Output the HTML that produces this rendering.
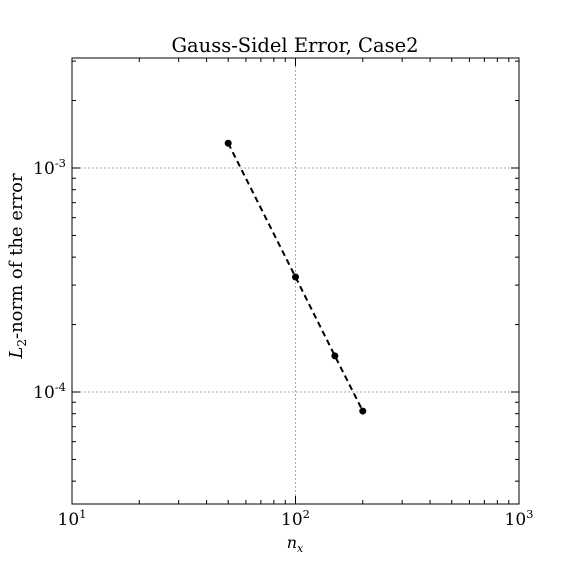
<!DOCTYPE html>
<html><head><meta charset="utf-8"><style>
body{margin:0;background:#fff;}
svg{display:block;font-family:"DejaVu Serif","Liberation Serif",serif;}
</style></head><body>
<svg id="c" width="576" height="576" viewBox="0 0 576 576">
<rect width="576" height="576" fill="#fff"/>
<text x="295" y="52" font-size="19.5" text-anchor="middle">Gauss-Sidel Error, Case2</text>
<g id="grid"></g><g id="ticks"></g><g id="series"></g>
<rect x="72" y="58" width="447" height="446" fill="none" stroke="#000" stroke-width="1"/>
<text x="295" y="548" font-size="16" font-style="italic" text-anchor="middle">n<tspan font-size="11" dy="4">x</tspan></text>
<text transform="translate(22,266) rotate(-90)" font-size="18" text-anchor="middle"><tspan font-style="italic">L</tspan><tspan font-size="12" dy="4">2</tspan><tspan dy="-4">-norm of the error</tspan></text>
</svg>
<script>
const nx=[50,100,150,200];
const errVals=[1.29e-3,3.26e-4,1.45e-4,8.22e-5];
const xTickExps=[1,2,3];
const yTickExps=[-3,-4];
const NS="http://www.w3.org/2000/svg";
const L=72,R=519,T=58,B=504;
const xmin=1,xmax=3,ymin=-4.5,ymax=-2.509;
const xs=v=>L+(Math.log10(v)-xmin)/(xmax-xmin)*(R-L);
const ys=v=>B-(Math.log10(v)-ymin)/(ymax-ymin)*(B-T);
function mk(t,a,p){const e=document.createElementNS(NS,t);for(const k in a)e.setAttribute(k,a[k]);p.appendChild(e);return e;}
const g=document.getElementById('grid'),tk=document.getElementById('ticks'),s=document.getElementById('series');
xTickExps.forEach(e=>{const x=xs(Math.pow(10,e));
 if(e>xmin&&e<xmax){const l=mk('line',{x1:x,x2:x,y1:T,y2:B,stroke:'#aaa','stroke-dasharray':'2,2'},g);
 }
 mk('line',{x1:x,x2:x,y1:B,y2:B-8,stroke:'#000'},tk);mk('line',{x1:x,x2:x,y1:T,y2:T+8,stroke:'#000'},tk);
 const t=mk('text',{x:x,y:525,'font-size':17,'text-anchor':'middle'},tk);t.innerHTML='10<tspan font-size="11.5" dy="-7">'+e+'</tspan>';
 
 if(e<xmax)for(let m=2;m<10;m++){const xm=xs(m*Math.pow(10,e));
  mk('line',{x1:xm,x2:xm,y1:B,y2:B-4,stroke:'#000'},tk);mk('line',{x1:xm,x2:xm,y1:T,y2:T+4,stroke:'#000'},tk);}
});
yTickExps.forEach(e=>{const y=ys(Math.pow(10,e));
 const l=mk('line',{x1:L,x2:R,y1:y,y2:y,stroke:'#aaa','stroke-dasharray':'2,2'},g);
 
 mk('line',{x1:L,x2:L+8,y1:y,y2:y,stroke:'#000'},tk);mk('line',{x1:R,x2:R-8,y1:y,y2:y,stroke:'#000'},tk);
 const t=mk('text',{x:66,y:y+6,'font-size':17,'text-anchor':'end'},tk);t.innerHTML='10<tspan font-size="11.5" dy="-7">'+e+'</tspan>';
 
});
for(let e=-5;e<=-3;e++)for(let m=2;m<10;m++){const v=m*Math.pow(10,e),lv=Math.log10(v);
 if(lv>ymin&&lv<ymax){const y=ys(v);mk('line',{x1:L,x2:L+4,y1:y,y2:y,stroke:'#000'},tk);mk('line',{x1:R,x2:R-4,y1:y,y2:y,stroke:'#000'},tk);}}
const p=mk('polyline',{points:nx.map((v,i)=>xs(v)+','+ys(errVals[i])).join(' '),fill:'none',stroke:'#000','stroke-width':2,'stroke-dasharray':'6,4'},s);

nx.forEach((v,i)=>{const c=mk('circle',{cx:xs(v),cy:ys(errVals[i]),r:3.5,fill:'#000'},s);
 });
</script>
</body></html>
